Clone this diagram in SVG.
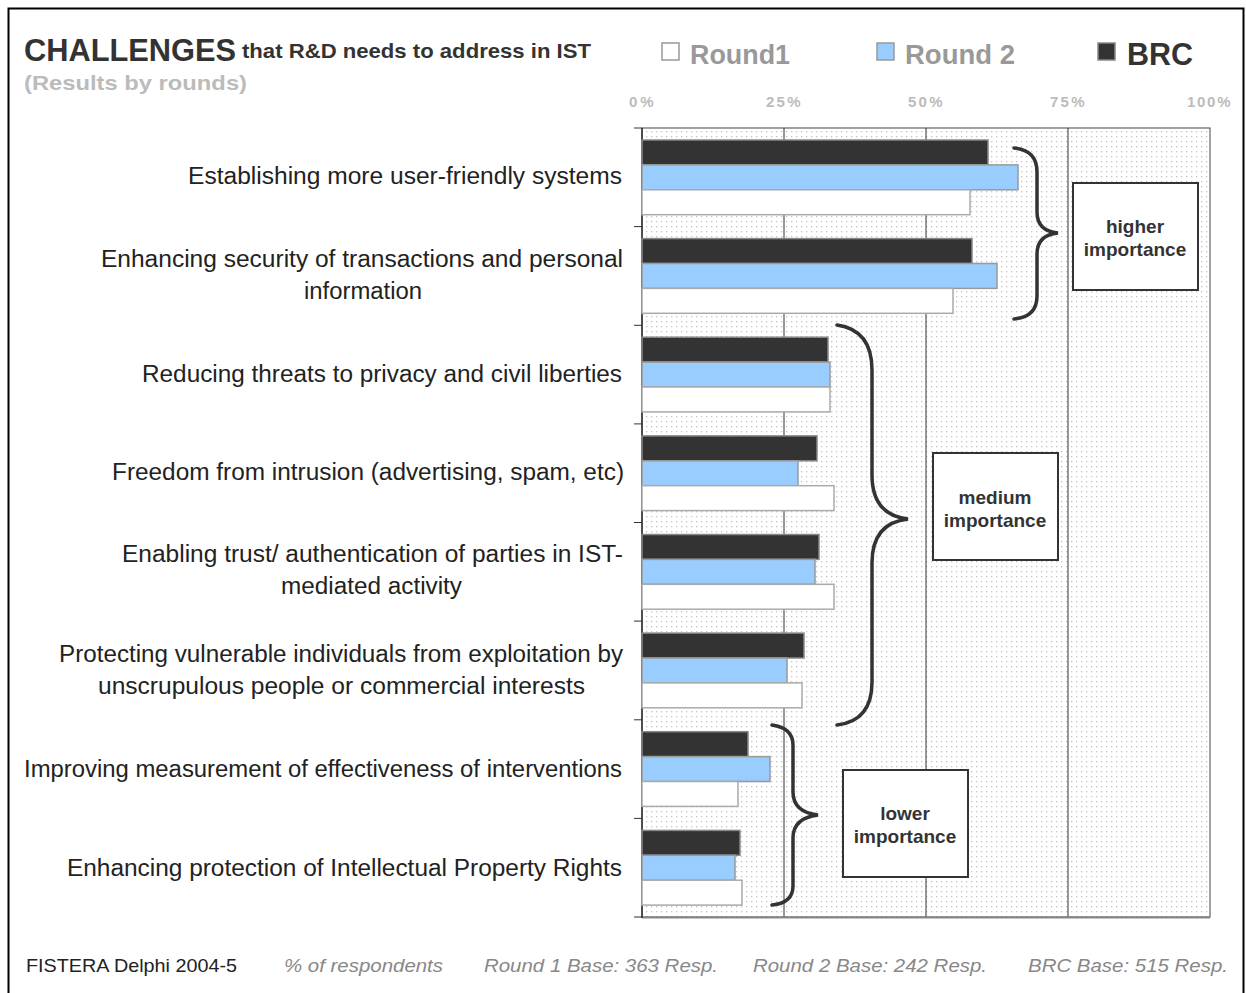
<svg xmlns="http://www.w3.org/2000/svg" width="1246" height="993" viewBox="0 0 1246 993">
<style>
.lbl{font-family:"Liberation Sans",Arial,sans-serif;font-size:23px;fill:#222;}
.ax{font-family:"Liberation Sans",Arial,sans-serif;font-size:15px;font-weight:bold;fill:#bbb;letter-spacing:1.5px;}
.box{fill:#fff;stroke:#333;stroke-width:2;}
.boxt{font-family:"Liberation Sans",Arial,sans-serif;font-size:19px;font-weight:bold;fill:#333;text-anchor:middle;}
.brc{fill:#333;stroke:#888;stroke-width:1.5;}
.r2{fill:#99ccff;stroke:#999;stroke-width:1.5;}
.r1{fill:#fff;stroke:#aaa;stroke-width:1.5;}
.brace{fill:none;stroke:#333;stroke-width:3.5;stroke-linecap:round;}
.grid{stroke:#333;stroke-width:1;}
.foot{font-family:"Liberation Sans",Arial,sans-serif;font-size:19px;}
.fi{fill:#888;font-style:italic;}
</style>
<defs>
<pattern id="dots" width="5" height="5" patternUnits="userSpaceOnUse">
<rect width="5" height="5" fill="#fff"/>
<rect x="1" y="1" width="1.3" height="1.3" fill="#c4c4c4"/>
</pattern>
</defs>
<rect width="1246" height="993" fill="#fff"/>
<rect x="8.5" y="8.5" width="1235" height="1010" fill="none" stroke="#000" stroke-width="2"/>

<g id="title">
<text x="24" y="61" font-family="Liberation Sans,Arial,sans-serif" font-size="32" font-weight="bold" fill="#333" textLength="212" lengthAdjust="spacingAndGlyphs">CHALLENGES</text>
<text x="242" y="58" font-family="Liberation Sans,Arial,sans-serif" font-size="21" font-weight="bold" fill="#333" textLength="349" lengthAdjust="spacingAndGlyphs">that R&amp;D needs to address in IST</text>
<text x="24" y="90" font-family="Liberation Sans,Arial,sans-serif" font-size="21" font-weight="bold" fill="#bbb" textLength="223" lengthAdjust="spacingAndGlyphs">(Results by rounds)</text>
</g>

<g id="legend">
<rect x="662" y="43" width="17" height="17" fill="#fff" stroke="#999" stroke-width="1.5"/>
<text x="690" y="64" font-family="Liberation Sans,Arial,sans-serif" font-size="27" font-weight="bold" fill="#999" textLength="100" lengthAdjust="spacingAndGlyphs">Round1</text>
<rect x="877" y="43" width="17" height="17" fill="#99ccff" stroke="#999" stroke-width="1.5"/>
<text x="905" y="64" font-family="Liberation Sans,Arial,sans-serif" font-size="27" font-weight="bold" fill="#999" textLength="110" lengthAdjust="spacingAndGlyphs">Round 2</text>
<rect x="1098" y="43" width="17" height="17" fill="#333" stroke="#888" stroke-width="1.5"/>
<text x="1127" y="65" font-family="Liberation Sans,Arial,sans-serif" font-size="32" font-weight="bold" fill="#333" textLength="66" lengthAdjust="spacingAndGlyphs">BRC</text>
</g>

<g id="axis-labels">
<text class="ax" x="629" y="107" textLength="26">0%</text>
<text class="ax" x="766" y="107" textLength="36">25%</text>
<text class="ax" x="908" y="107" textLength="36">50%</text>
<text class="ax" x="1050" y="107" textLength="36">75%</text>
<text class="ax" x="1187" y="107" textLength="45">100%</text>
</g>

<g id="plot">
<rect x="642" y="128" width="568" height="789" fill="url(#dots)" stroke="#444" stroke-width="1"/>
<line class="grid" x1="784" y1="128" x2="784" y2="917"/>
<line class="grid" x1="926" y1="128" x2="926" y2="917"/>
<line class="grid" x1="1068" y1="128" x2="1068" y2="917"/>
<line x1="642" y1="917.5" x2="1210" y2="917.5" stroke="#888" stroke-width="2"/>
<line x1="642" y1="128" x2="642" y2="918" stroke="#333" stroke-width="1.5"/>
<g stroke="#333" stroke-width="1">
<line x1="634" y1="128" x2="642" y2="128"/>
<line x1="634" y1="226.6" x2="642" y2="226.6"/>
<line x1="634" y1="325.3" x2="642" y2="325.3"/>
<line x1="634" y1="423.9" x2="642" y2="423.9"/>
<line x1="634" y1="522.5" x2="642" y2="522.5"/>
<line x1="634" y1="621.1" x2="642" y2="621.1"/>
<line x1="634" y1="719.8" x2="642" y2="719.8"/>
<line x1="634" y1="818.4" x2="642" y2="818.4"/>
<line x1="634" y1="917" x2="642" y2="917"/>
</g>
</g>

<g id="cat1">
<text class="lbl" x="188" y="184" textLength="434" lengthAdjust="spacingAndGlyphs">Establishing more user-friendly systems</text>
<rect class="brc" x="642" y="140" width="346" height="24.9"/>
<rect class="r2" x="642" y="164.9" width="376" height="24.9"/>
<rect class="r1" x="642" y="189.8" width="328" height="24.9"/>
</g>
<g id="cat2">
<text class="lbl" x="101" y="267" textLength="522" lengthAdjust="spacingAndGlyphs">Enhancing security of transactions and personal</text>
<text class="lbl" x="304" y="299" textLength="118" lengthAdjust="spacingAndGlyphs">information</text>
<rect class="brc" x="642" y="238.6" width="330" height="24.9"/>
<rect class="r2" x="642" y="263.5" width="355" height="24.9"/>
<rect class="r1" x="642" y="288.4" width="311" height="24.9"/>
</g>
<g id="cat3">
<text class="lbl" x="142" y="382" textLength="480" lengthAdjust="spacingAndGlyphs">Reducing threats to privacy and civil liberties</text>
<rect class="brc" x="642" y="337.2" width="186" height="24.9"/>
<rect class="r2" x="642" y="362.1" width="188" height="24.9"/>
<rect class="r1" x="642" y="387" width="188" height="24.9"/>
</g>
<g id="cat4">
<text class="lbl" x="112" y="480" textLength="512" lengthAdjust="spacingAndGlyphs">Freedom from intrusion (advertising, spam, etc)</text>
<rect class="brc" x="642" y="435.9" width="175" height="24.9"/>
<rect class="r2" x="642" y="460.8" width="156" height="24.9"/>
<rect class="r1" x="642" y="485.7" width="192" height="24.9"/>
</g>
<g id="cat5">
<text class="lbl" x="122" y="562" textLength="501" lengthAdjust="spacingAndGlyphs">Enabling trust/ authentication of parties in IST-</text>
<text class="lbl" x="281" y="594" textLength="181" lengthAdjust="spacingAndGlyphs">mediated activity</text>
<rect class="brc" x="642" y="534.5" width="177" height="24.9"/>
<rect class="r2" x="642" y="559.4" width="173" height="24.9"/>
<rect class="r1" x="642" y="584.3" width="192" height="24.9"/>
</g>
<g id="cat6">
<text class="lbl" x="59" y="662" textLength="564" lengthAdjust="spacingAndGlyphs">Protecting vulnerable individuals from exploitation by</text>
<text class="lbl" x="98" y="694" textLength="487" lengthAdjust="spacingAndGlyphs">unscrupulous people or commercial interests</text>
<rect class="brc" x="642" y="633.1" width="162" height="24.9"/>
<rect class="r2" x="642" y="658" width="145" height="24.9"/>
<rect class="r1" x="642" y="682.9" width="160" height="24.9"/>
</g>
<g id="cat7">
<text class="lbl" x="24" y="777" textLength="598" lengthAdjust="spacingAndGlyphs">Improving measurement of effectiveness of interventions</text>
<rect class="brc" x="642" y="731.7" width="106" height="24.9"/>
<rect class="r2" x="642" y="756.6" width="128" height="24.9"/>
<rect class="r1" x="642" y="781.5" width="96" height="24.9"/>
</g>
<g id="cat8">
<text class="lbl" x="67" y="876" textLength="555" lengthAdjust="spacingAndGlyphs">Enhancing protection of Intellectual Property Rights</text>
<rect class="brc" x="642" y="830.4" width="98" height="24.9"/>
<rect class="r2" x="642" y="855.3" width="93" height="24.9"/>
<rect class="r1" x="642" y="880.2" width="100" height="24.9"/>
</g>

<g id="connectors">
<path class="brace" d="M1014,148 Q1037,150 1037,172 L1037,212 Q1037,231 1058,233 Q1037,235 1037,254 L1037,296 Q1037,317 1014,319"/>
<path class="brace" d="M837,325 Q872,330 872,370 L872,475 Q872,515 908,519 Q872,523 872,563 L872,682 Q872,721 837,725"/>
<path class="brace" d="M772,725 Q793,728 793,745 L793,792 Q793,812 818,815 Q793,818 793,838 L793,886 Q793,903 772,905"/>
</g>

<g id="higher">
<rect class="box" x="1073" y="183" width="125" height="107"/>
<text class="boxt" x="1135" y="233">higher</text>
<text class="boxt" x="1135" y="256">importance</text>
</g>
<g id="medium">
<rect class="box" x="933" y="453" width="125" height="107"/>
<text class="boxt" x="995" y="504">medium</text>
<text class="boxt" x="995" y="527">importance</text>
</g>
<g id="lower">
<rect class="box" x="843" y="770" width="125" height="107"/>
<text class="boxt" x="905" y="820">lower</text>
<text class="boxt" x="905" y="843">importance</text>
</g>

<g id="footer" class="foot">
<text x="26" y="972" fill="#222" textLength="211" lengthAdjust="spacingAndGlyphs">FISTERA Delphi 2004-5</text>
<text class="fi" x="284" y="972" textLength="159" lengthAdjust="spacingAndGlyphs">% of respondents</text>
<text class="fi" x="484" y="972" textLength="234" lengthAdjust="spacingAndGlyphs">Round 1 Base: 363 Resp.</text>
<text class="fi" x="753" y="972" textLength="234" lengthAdjust="spacingAndGlyphs">Round 2 Base: 242 Resp.</text>
<text class="fi" x="1028" y="972" textLength="200" lengthAdjust="spacingAndGlyphs">BRC Base: 515 Resp.</text>
</g>
</svg>
